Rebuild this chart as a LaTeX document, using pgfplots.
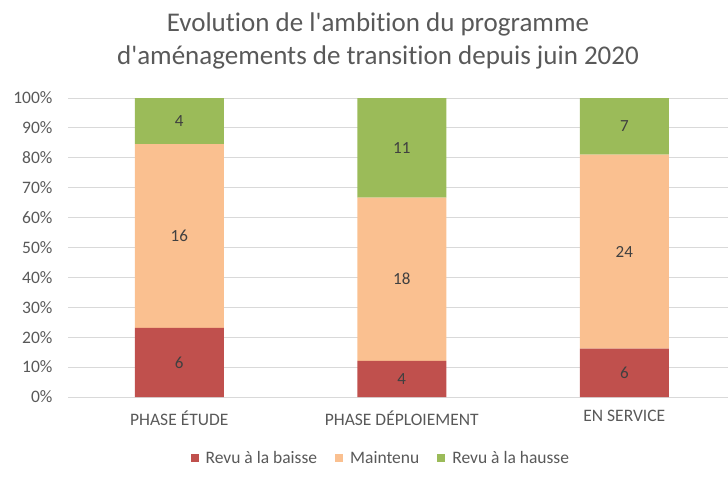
\documentclass[border=0pt]{standalone}
\usepackage{fontspec}
\setmainfont{Carlito}[Ligatures=NoCommon]
\usepackage{pgfplots}
\usepackage{pgfplotstable}
\pgfplotsset{compat=1.18}
\definecolor{cred}{HTML}{C0504D}
\definecolor{corange}{HTML}{FAC090}
\definecolor{cgreen}{HTML}{9BBB59}
\definecolor{textgray}{HTML}{595959}
\definecolor{gridgray}{HTML}{D9D9D9}
\pgfplotstableread{
x baisse maintenu hausse total
0 6 16 4 26
1 4 18 11 33
2 6 24 7 37
}\data
\pgfplotsset{common/.style={at={(68pt,82pt)}, anchor=south west, scale only axis,
  width=660pt, height=299pt, xmin=-0.5, xmax=2.466, ymin=0, ymax=100,
  /pgf/number format/assume math mode=true}}
\begin{document}
\begin{tikzpicture}
\useasboundingbox (0pt,0pt) rectangle (728pt,479pt);
\node[font=\fontsize{27}{33}\selectfont, text=textgray, align=center] at (378pt,438pt) {Evolution de l\textquotesingle ambition du programme\\d\textquotesingle aménagements de transition depuis juin 2020};
\begin{axis}[common,
  ybar stacked, bar width=89pt,
  xtick={0,1,2},
  xticklabels={PHASE ÉTUDE, PHASE DÉPLOIEMENT, EN SERVICE},
  ytick={0,10,...,100},
  yticklabel={\pgfmathprintnumber{\tick}\%},
  ymajorgrids, grid style={color=gridgray, line width=0.9pt},
  axis line style={draw=none},
  major tick length=0pt,
  tick label style={font=\fontsize{17.5}{19}\selectfont, text=textgray},
  yticklabel style={xshift=-12pt},
  xticklabel style={yshift=-10pt, font=\fontsize{17.5}{19}\selectfont},
  legend style={at={(0.474,-0.204)}, anchor=center, legend columns=-1, draw=none,
    font=\fontsize{17.5}{19}\selectfont, text=textgray,
    /tikz/every odd column/.append style={column sep=5pt},
    /tikz/every even column/.append style={column sep=16pt}},
  legend image code/.code={\fill[#1] (0pt,-4pt) rectangle (8pt,4pt);},
]
\addplot[fill=cred, draw=none] table[x=x, y expr=\thisrow{baisse}/\thisrow{total}*100] {\data};
\addplot[fill=corange, draw=none] table[x=x, y expr=\thisrow{maintenu}/\thisrow{total}*100] {\data};
\addplot[fill=cgreen, draw=none] table[x=x, y expr=\thisrow{hausse}/\thisrow{total}*100] {\data};
\legend{Revu à la baisse, Maintenu, Revu à la hausse}
\end{axis}
\begin{axis}[common, hide axis,
  point meta=explicit, nodes near coords,
  every node near coord/.append style={anchor=center, font=\fontsize{17}{19}\selectfont, text=black!75}]
\addplot[draw=none, mark=none] table[x=x, y expr=0.5*\thisrow{baisse}/\thisrow{total}*100, meta=baisse] {\data};
\addplot[draw=none, mark=none] table[x=x, y expr=(\thisrow{baisse}+0.5*\thisrow{maintenu})/\thisrow{total}*100, meta=maintenu] {\data};
\addplot[draw=none, mark=none] table[x=x, y expr=(\thisrow{baisse}+\thisrow{maintenu}+0.5*\thisrow{hausse})/\thisrow{total}*100, meta=hausse] {\data};
\end{axis}
\end{tikzpicture}
\end{document}
